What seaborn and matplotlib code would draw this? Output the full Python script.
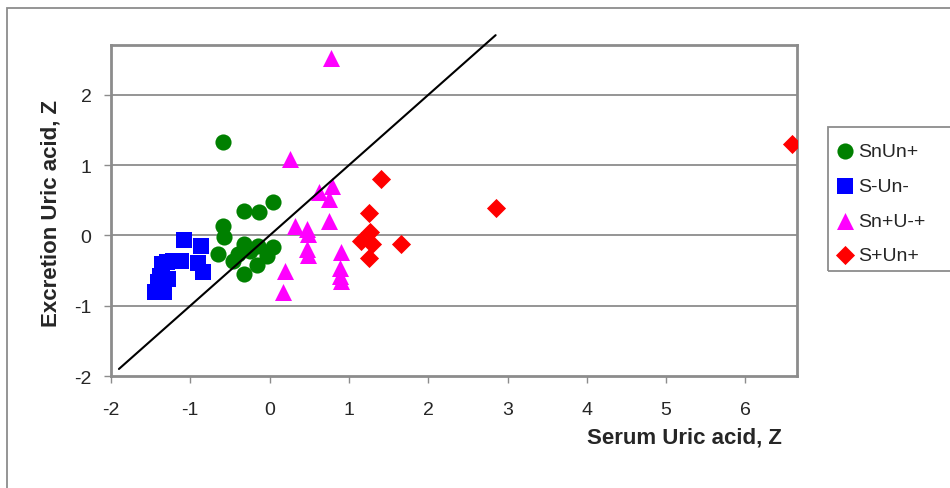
import matplotlib
matplotlib.use("Agg")
import matplotlib.pyplot as plt
import pandas as pd
import seaborn as sns
from matplotlib.patches import Rectangle

GROUPS = ["SnUn+", "S-Un-", "Sn+U-+", "S+Un+"]

snun_x = [-0.59, -0.32, -0.13, 0.04, -0.59, -0.58, -0.65, -0.32, -0.40, -0.46, -0.32, -0.15, -0.16, -0.03, 0.04, -0.25]
snun_y = [1.33, 0.35, 0.34, 0.48, 0.14, -0.02, -0.26, -0.12, -0.26, -0.36, -0.55, -0.15, -0.42, -0.29, -0.16, -0.22]

sun_x = [-1.08, -0.87, -0.90, -0.84, -1.22, -1.12, -1.30, -1.36, -1.38, -1.41, -1.45, -1.33, -1.28]
sun_y = [-0.06, -0.15, -0.39, -0.52, -0.36, -0.37, -0.38, -0.40, -0.57, -0.66, -0.80, -0.80, -0.62]

snu_x = [0.77, 0.26, 0.62, 0.79, 0.75, 0.75, 0.32, 0.47, 0.48, 0.47, 0.48, 0.90, 0.89, 0.89, 0.90, 0.19, 0.17]
snu_y = [2.53, 1.09, 0.62, 0.71, 0.52, 0.21, 0.14, 0.09, 0.02, -0.19, -0.28, -0.23, -0.47, -0.57, -0.65, -0.50, -0.80]

spun_x = [1.40, 1.25, 1.26, 1.15, 1.29, 1.25, 1.66, 2.86, 6.59]
spun_y = [0.80, 0.32, 0.05, -0.08, -0.12, -0.32, -0.12, 0.39, 1.30]

identity = [-1.9, 2.85]

x_ticks = [-2, -1, 0, 1, 2, 3, 4, 5, 6]
y_ticks = [-2, -1, 0, 1, 2]

frames = []
for name, xs, ys in zip(GROUPS, [snun_x, sun_x, snu_x, spun_x], [snun_y, sun_y, snu_y, spun_y]):
    frames.append(pd.DataFrame({"serum": xs, "excretion": ys, "group": name}))
data = pd.concat(frames, ignore_index=True)

palette = {"SnUn+": "#008000", "S-Un-": "#0000ff", "Sn+U-+": "#ff00ff", "S+Un+": "#ff0000"}
markers = {"SnUn+": "o", "S-Un-": "s", "Sn+U-+": "^", "S+Un+": "D"}
sizes = {"SnUn+": 135, "S-Un-": 130, "Sn+U-+": 150, "S+Un+": 95}

sns.set_style("white")
plt.rcParams["font.family"] = ["Liberation Sans", "DejaVu Sans"]

fig = plt.figure(figsize=(9.5, 4.89), dpi=100)
ax = fig.add_axes([111 / 950, 1 - 377 / 489, 686 / 950, 331 / 489])

for name in GROUPS:
    sns.scatterplot(
        data=data[data["group"] == name], x="serum", y="excretion",
        color=palette[name], marker=markers[name], s=sizes[name],
        linewidth=0, ax=ax, label=name, zorder=3,
    )

ax.plot(identity, identity, color="black", linewidth=1.5, clip_on=False, zorder=4)

ax.set_xlim(-2, 6.65)
ax.set_ylim(-2, 2.71)
ax.set_xticks(x_ticks)
ax.set_yticks(y_ticks)
ax.set_xticklabels([str(t) for t in x_ticks])
ax.set_yticklabels([str(t) for t in y_ticks])
for t in y_ticks[1:]:
    ax.axhline(t, color="#8c8c8c", linewidth=1.3, zorder=1)

for side in ["left", "bottom", "top", "right"]:
    ax.spines[side].set_color("#8c8c8c")
    ax.spines[side].set_linewidth(2)
ax.tick_params(axis="both", direction="out", length=5, width=1, color="#8c8c8c",
               labelsize=14, bottom=True, left=True)
ax.tick_params(axis="x", pad=13)
ax.tick_params(axis="y", pad=9)

ax.set_xlabel("")
ax.set_ylabel("")
fig.text(684 / 950, 1 - 438 / 489, "Serum Uric acid, Z", ha="center", va="center",
         fontsize=16, fontweight="bold")
fig.text(51 / 950, 1 - 214 / 489, "Excretion Uric acid, Z", ha="center", va="center",
         rotation=90, fontsize=16, fontweight="bold")

# legend box runs off the right edge in the original
fig.patches.append(Rectangle((828 / 950, 1 - 272 / 489), 0.2, 144 / 489,
                             transform=fig.transFigure, fill=False,
                             edgecolor="#8c8c8c", linewidth=1.3))
leg = ax.legend(loc="upper left", bbox_to_anchor=(822 / 950, 1 - 130 / 489),
                bbox_transform=fig.transFigure, frameon=False, fontsize=14,
                handletextpad=0.15, labelspacing=0.88, borderpad=0.2,
                markerscale=1.0, handlelength=1.0)

fig.patches.append(Rectangle((7 / 950, -0.1), 1.2, 1 - 9 / 489 + 0.1,
                             transform=fig.transFigure, fill=False,
                             edgecolor="#8c8c8c", linewidth=1.3))

fig.savefig("out.png", dpi=100)
